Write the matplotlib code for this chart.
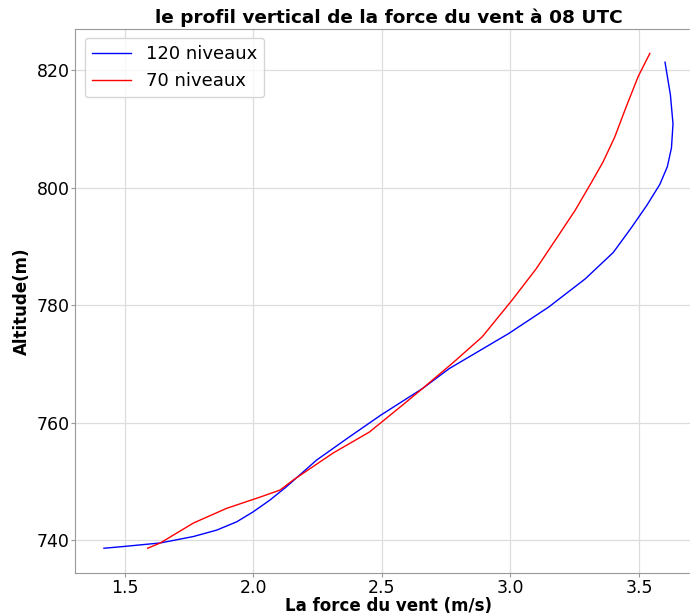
import matplotlib.pyplot as plt

# wind speed (m/s) vs altitude (m), 120-level run
vent_120 = [1.420, 1.497, 1.639, 1.768, 1.859, 1.936, 2.000, 2.065, 2.130, 2.246,
            2.375, 2.497, 2.658, 2.762, 2.994, 3.149, 3.291, 3.400, 3.470, 3.530,
            3.581, 3.610, 3.626, 3.632, 3.622, 3.601]
alt_120 = [738.6, 738.9, 739.5, 740.6, 741.7, 743.1, 744.8, 746.8, 749.1, 753.6,
           757.6, 761.3, 765.8, 769.2, 775.2, 779.7, 784.5, 789.0, 793.2, 797.0,
           800.6, 803.6, 806.8, 810.9, 815.8, 821.4]

# 70-level run
vent_70 = [1.590, 1.639, 1.768, 1.897, 2.026, 2.104, 2.155, 2.310, 2.452, 2.581,
           2.658, 2.774, 2.890, 3.007, 3.100, 3.187, 3.252, 3.316, 3.360, 3.405,
           3.450, 3.497, 3.542]
alt_70 = [738.6, 739.5, 742.9, 745.4, 747.3, 748.5, 750.2, 754.8, 758.4, 763.0,
          765.8, 770.1, 774.6, 780.9, 786.2, 791.9, 796.2, 801.0, 804.4, 808.6,
          813.8, 819.0, 822.9]

fig = plt.figure(figsize=(6.9, 6.14), dpi=100)
ax = fig.add_axes([0.1094, 0.0668, 0.9072, 0.8865])

ax.plot(vent_120, alt_120, color='blue', lw=1.0, label='120 niveaux')
ax.plot(vent_70, alt_70, color='red', lw=1.0, label='70 niveaux')

ax.set_xticks([1.5, 2.0, 2.5, 3.0, 3.5])
ax.set_yticks([740, 760, 780, 800, 820])
ax.tick_params(labelsize=12.5, color='#999999', length=3, pad=1)
ax.grid(True, color='#dddddd', lw=0.9)
for s in ax.spines.values():
    s.set_color('#999999')

ax.set_title('le profil vertical de la force du vent à 08 UTC', fontsize=13.3, fontweight='bold', pad=4)
ax.set_xlabel('La force du vent (m/s)', fontsize=12, fontweight='bold', labelpad=0)
ax.set_ylabel('Altitude(m)', fontsize=12, fontweight='bold', labelpad=4)
ax.legend(loc='upper left', fontsize=13, handlelength=2.2)

fig.savefig('out.png', dpi=100)
